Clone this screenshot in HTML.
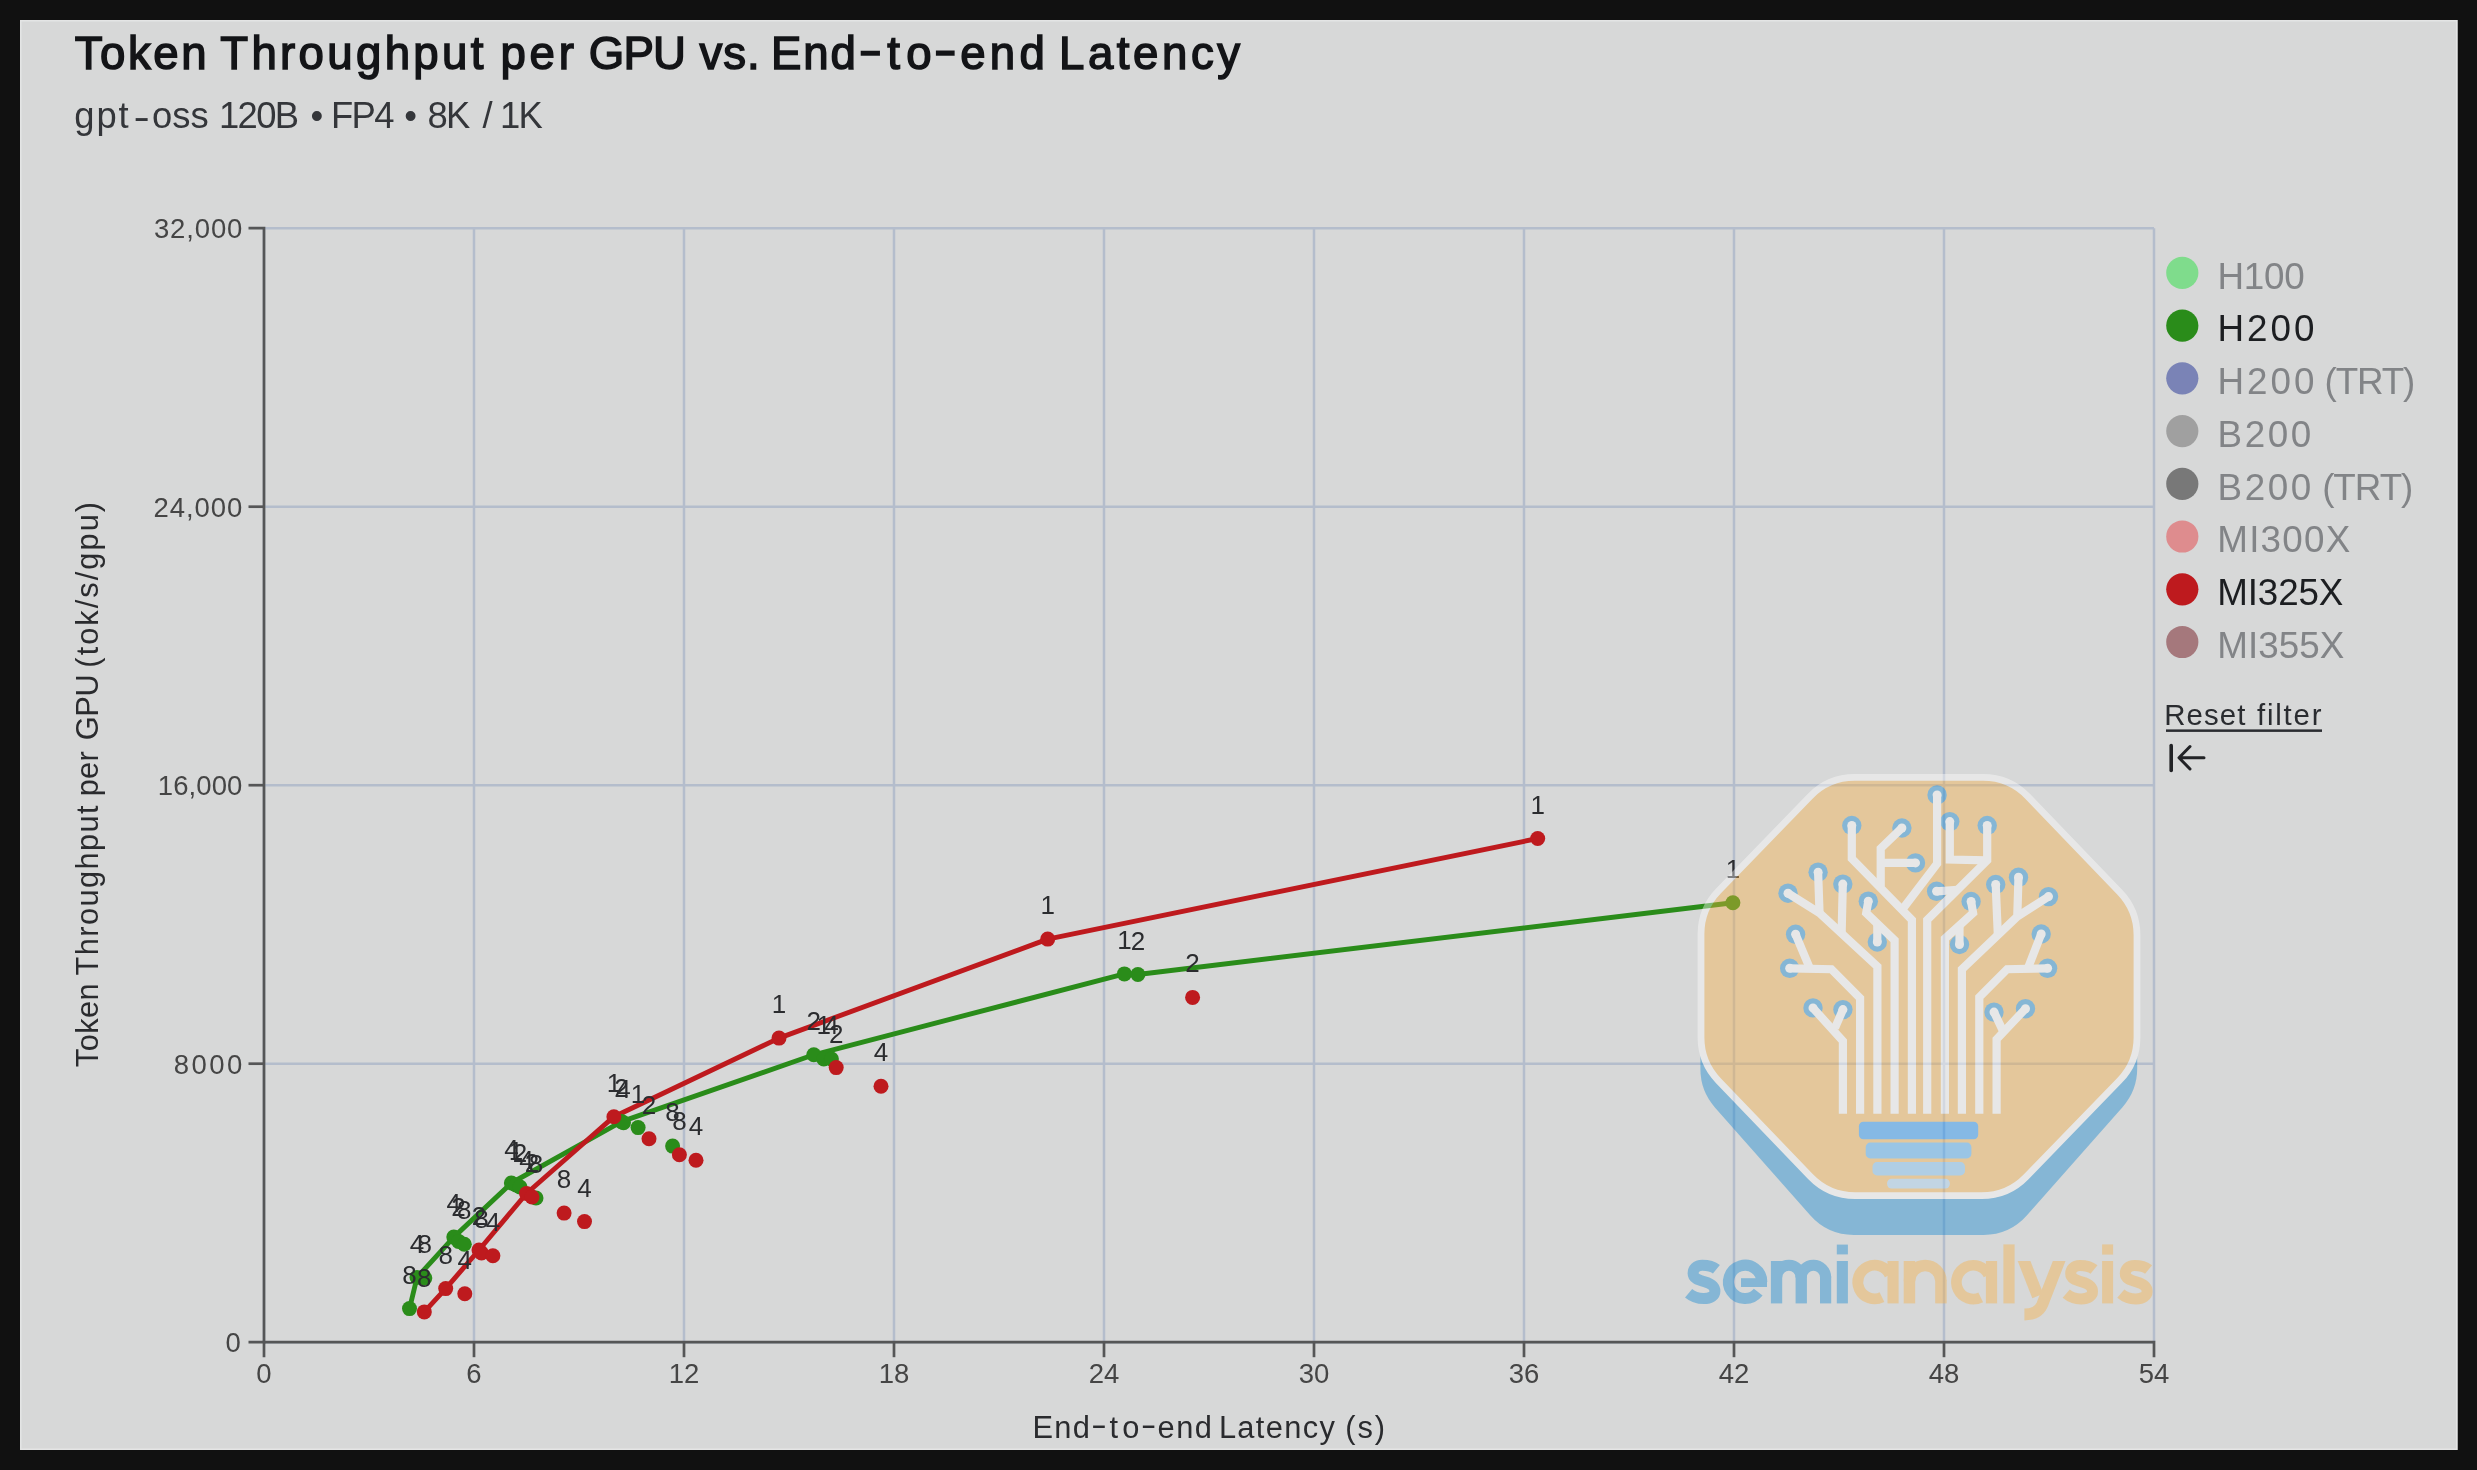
<!DOCTYPE html>
<html><head><meta charset="utf-8"><title>Token Throughput per GPU vs. End-to-end Latency</title>
<style>html,body{margin:0;padding:0;background:#111111;width:2477px;height:1470px;overflow:hidden}</style></head>
<body>
<svg width="2477" height="1470" viewBox="0 0 2477 1470" style="position:absolute;left:0;top:0;will-change:transform">
<rect x="0" y="0" width="2477" height="1470" fill="#111111"/>
<rect x="20" y="20" width="2437.5" height="1430" fill="#d7d8d8"/>
<rect x="20.75" y="20.75" width="2436" height="1428.5" fill="none" stroke="#e4e5e5" stroke-width="1.5"/>
<text x="74.74" y="69.0" font-family="Liberation Sans, sans-serif" font-size="45.6" font-weight="400" fill="#131417" letter-spacing="2.523"  stroke="#131417" stroke-width="1.5" stroke-linejoin="miter">Token</text><text x="220.24" y="69.0" font-family="Liberation Sans, sans-serif" font-size="45.6" font-weight="400" fill="#131417" letter-spacing="3.325"  stroke="#131417" stroke-width="1.5" stroke-linejoin="miter">Throughput</text><text x="500.50" y="69.0" font-family="Liberation Sans, sans-serif" font-size="45.6" font-weight="400" fill="#131417" letter-spacing="3.733"  stroke="#131417" stroke-width="1.5" stroke-linejoin="miter">per</text><text x="588.81" y="69.0" font-family="Liberation Sans, sans-serif" font-size="45.6" font-weight="400" fill="#131417" letter-spacing="-0.786"  stroke="#131417" stroke-width="1.5" stroke-linejoin="miter">GPU</text><text x="699.55" y="69.0" font-family="Liberation Sans, sans-serif" font-size="45.6" font-weight="400" fill="#131417" letter-spacing="0.975"  stroke="#131417" stroke-width="1.5" stroke-linejoin="miter">vs.</text><text x="771.09" y="69.0" font-family="Liberation Sans, sans-serif" font-size="45.6" font-weight="400" fill="#131417" letter-spacing="1.794"  stroke="#131417" stroke-width="1.5" stroke-linejoin="miter">End</text><text x="887.35" y="69.0" font-family="Liberation Sans, sans-serif" font-size="45.6" font-weight="400" fill="#131417" letter-spacing="6.118"  stroke="#131417" stroke-width="1.5" stroke-linejoin="miter">to</text><text x="960.23" y="69.0" font-family="Liberation Sans, sans-serif" font-size="45.6" font-weight="400" fill="#131417" letter-spacing="4.252"  stroke="#131417" stroke-width="1.5" stroke-linejoin="miter">end</text><text x="1058.99" y="69.0" font-family="Liberation Sans, sans-serif" font-size="45.6" font-weight="400" fill="#131417" letter-spacing="3.559"  stroke="#131417" stroke-width="1.5" stroke-linejoin="miter">Latency</text>
<text transform="translate(858.87,65.91) scale(1.527,1.000)" font-family="Liberation Sans, sans-serif" font-size="45.6" font-weight="400" fill="#131417" stroke="#131417" stroke-width="1.5">-</text><text transform="translate(934.03,65.91) scale(1.486,1.000)" font-family="Liberation Sans, sans-serif" font-size="45.6" font-weight="400" fill="#131417" stroke="#131417" stroke-width="1.5">-</text>
<text transform="translate(133.57,129.47) scale(1.345,1.000)" font-family="Liberation Sans, sans-serif" font-size="36.4" font-weight="400" fill="#34363a">-</text>
<text x="74.36" y="128.4" font-family="Liberation Sans, sans-serif" font-size="36.4" font-weight="400" fill="#34363a" letter-spacing="1.856" >gpt</text><text x="151.96" y="128.4" font-family="Liberation Sans, sans-serif" font-size="36.4" font-weight="400" fill="#34363a" letter-spacing="0.116" >oss</text><text x="218.98" y="128.4" font-family="Liberation Sans, sans-serif" font-size="36.4" font-weight="400" fill="#34363a" letter-spacing="-1.638" >120B</text><text x="310.46" y="128.4" font-family="Liberation Sans, sans-serif" font-size="36.4" font-weight="400" fill="#34363a" letter-spacing="0.000" >•</text><text x="331.04" y="128.4" font-family="Liberation Sans, sans-serif" font-size="36.4" font-weight="400" fill="#34363a" letter-spacing="-1.638" >FP4</text><text x="404.26" y="128.4" font-family="Liberation Sans, sans-serif" font-size="36.4" font-weight="400" fill="#34363a" letter-spacing="0.000" >•</text><text x="427.43" y="128.4" font-family="Liberation Sans, sans-serif" font-size="36.4" font-weight="400" fill="#34363a" letter-spacing="-1.638" >8K</text><text x="482.50" y="128.4" font-family="Liberation Sans, sans-serif" font-size="36.4" font-weight="400" fill="#34363a" letter-spacing="0.000" >/</text><text x="500.02" y="128.4" font-family="Liberation Sans, sans-serif" font-size="36.4" font-weight="400" fill="#34363a" letter-spacing="-1.638" >1K</text>
<g stroke="#b4bdcc" stroke-width="2.5" fill="none">
<line x1="264.0" y1="228.2" x2="264.0" y2="1342.2"/>
<line x1="474.0" y1="228.2" x2="474.0" y2="1342.2"/>
<line x1="684.0" y1="228.2" x2="684.0" y2="1342.2"/>
<line x1="894.0" y1="228.2" x2="894.0" y2="1342.2"/>
<line x1="1104.0" y1="228.2" x2="1104.0" y2="1342.2"/>
<line x1="1314.0" y1="228.2" x2="1314.0" y2="1342.2"/>
<line x1="1524.0" y1="228.2" x2="1524.0" y2="1342.2"/>
<line x1="1734.0" y1="228.2" x2="1734.0" y2="1342.2"/>
<line x1="1944.0" y1="228.2" x2="1944.0" y2="1342.2"/>
<line x1="2154.0" y1="228.2" x2="2154.0" y2="1342.2"/>
<line x1="264.0" y1="1342.2" x2="2154.0" y2="1342.2"/>
<line x1="264.0" y1="1063.7" x2="2154.0" y2="1063.7"/>
<line x1="264.0" y1="785.2" x2="2154.0" y2="785.2"/>
<line x1="264.0" y1="506.7" x2="2154.0" y2="506.7"/>
<line x1="264.0" y1="228.2" x2="2154.0" y2="228.2"/>
</g>
<g stroke="#555657" stroke-width="2.7" fill="none">
<path d="M248.5,228.2 H264.0 V1342.2 H248.5"/>
<path d="M264.0,1357.2 V1342.2 H2154.0 V1357.2"/>
<line x1="248.5" y1="1063.7" x2="264.0" y2="1063.7"/>
<line x1="248.5" y1="785.2" x2="264.0" y2="785.2"/>
<line x1="248.5" y1="506.7" x2="264.0" y2="506.7"/>
<line x1="474.0" y1="1342.2" x2="474.0" y2="1357.2"/>
<line x1="684.0" y1="1342.2" x2="684.0" y2="1357.2"/>
<line x1="894.0" y1="1342.2" x2="894.0" y2="1357.2"/>
<line x1="1104.0" y1="1342.2" x2="1104.0" y2="1357.2"/>
<line x1="1314.0" y1="1342.2" x2="1314.0" y2="1357.2"/>
<line x1="1524.0" y1="1342.2" x2="1524.0" y2="1357.2"/>
<line x1="1734.0" y1="1342.2" x2="1734.0" y2="1357.2"/>
<line x1="1944.0" y1="1342.2" x2="1944.0" y2="1357.2"/>
</g>
<text x="225.44" y="1352.2" font-family="Liberation Sans, sans-serif" font-size="27.5" font-weight="400" fill="#454545" letter-spacing="0.000" >0</text>
<text x="173.64" y="1073.7" font-family="Liberation Sans, sans-serif" font-size="27.5" font-weight="400" fill="#454545" letter-spacing="2.522" >8000</text>
<text x="157.78" y="795.2" font-family="Liberation Sans, sans-serif" font-size="27.5" font-weight="400" fill="#454545" letter-spacing="0.098" >16,000</text>
<text x="153.51" y="516.7" font-family="Liberation Sans, sans-serif" font-size="27.5" font-weight="400" fill="#454545" letter-spacing="0.953" >24,000</text>
<text x="153.94" y="238.2" font-family="Liberation Sans, sans-serif" font-size="27.5" font-weight="400" fill="#454545" letter-spacing="0.867" >32,000</text>
<g font-family="Liberation Sans, sans-serif" font-size="27.5" fill="#454545">
<text x="264.0" y="1382.6" text-anchor="middle" letter-spacing="0">0</text>
<text x="474.0" y="1382.6" text-anchor="middle" letter-spacing="0">6</text>
<text x="684.0" y="1382.6" text-anchor="middle" letter-spacing="0">12</text>
<text x="894.0" y="1382.6" text-anchor="middle" letter-spacing="0">18</text>
<text x="1104.0" y="1382.6" text-anchor="middle" letter-spacing="0">24</text>
<text x="1314.0" y="1382.6" text-anchor="middle" letter-spacing="0">30</text>
<text x="1524.0" y="1382.6" text-anchor="middle" letter-spacing="0">36</text>
<text x="1734.0" y="1382.6" text-anchor="middle" letter-spacing="0">42</text>
<text x="1944.0" y="1382.6" text-anchor="middle" letter-spacing="0">48</text>
<text x="2154.0" y="1382.6" text-anchor="middle" letter-spacing="0">54</text>
</g>
<text transform="translate(1090.91,1434.78) scale(1.552,1.000)" font-family="Liberation Sans, sans-serif" font-size="30.8" font-weight="400" fill="#2a2b2e">-</text><text transform="translate(1140.63,1434.78) scale(1.528,1.000)" font-family="Liberation Sans, sans-serif" font-size="30.8" font-weight="400" fill="#2a2b2e">-</text>
<text x="1032.39" y="1437.6" font-family="Liberation Sans, sans-serif" font-size="30.8" font-weight="400" fill="#2a2b2e" letter-spacing="1.367" >End</text><text x="1109.40" y="1437.6" font-family="Liberation Sans, sans-serif" font-size="30.8" font-weight="400" fill="#2a2b2e" letter-spacing="4.362" >to</text><text x="1157.54" y="1437.6" font-family="Liberation Sans, sans-serif" font-size="30.8" font-weight="400" fill="#2a2b2e" letter-spacing="1.502" >end</text><text x="1218.89" y="1437.6" font-family="Liberation Sans, sans-serif" font-size="30.8" font-weight="400" fill="#2a2b2e" letter-spacing="1.355" >Latency</text><text x="1345.26" y="1437.6" font-family="Liberation Sans, sans-serif" font-size="30.8" font-weight="400" fill="#2a2b2e" letter-spacing="1.962" >(s)</text>
<g transform="translate(98.4,1066.7) rotate(-90)"><text x="-0.48" y="0" font-family="Liberation Sans, sans-serif" font-size="30.8" font-weight="400" fill="#2a2b2e" letter-spacing="0.406" >Token</text><text x="91.32" y="0" font-family="Liberation Sans, sans-serif" font-size="30.8" font-weight="400" fill="#2a2b2e" letter-spacing="1.371" >Throughput</text><text x="270.57" y="0" font-family="Liberation Sans, sans-serif" font-size="30.8" font-weight="400" fill="#2a2b2e" letter-spacing="0.130" >per</text><text x="326.56" y="0" font-family="Liberation Sans, sans-serif" font-size="30.8" font-weight="400" fill="#2a2b2e" letter-spacing="-0.435" >GPU</text><text x="399.06" y="0" font-family="Liberation Sans, sans-serif" font-size="30.8" font-weight="400" fill="#2a2b2e" letter-spacing="2.023" >(tok/s/gpu)</text></g>
<polyline points="409.5,1308.6 417.0,1277.5 453.8,1237.1 511.4,1183.0 621.5,1121.6 813.8,1054.8 1124.4,973.9 1137.9,974.5 1732.9,902.8" fill="none" stroke="#2a8c1a" stroke-width="4.9" stroke-linejoin="round" stroke-linecap="round"/>
<polyline points="424.3,1311.9 445.7,1288.6 479.0,1250.0 526.5,1193.5 613.9,1116.7 779.0,1038.1 1047.7,939.1 1537.7,838.5" fill="none" stroke="#be1a1e" stroke-width="4.9" stroke-linejoin="round" stroke-linecap="round"/>
<g fill="#2a8c1a"><circle cx="409.5" cy="1308.6" r="7.5"/><circle cx="417.0" cy="1277.5" r="7.5"/><circle cx="424.8" cy="1278.0" r="7.5"/><circle cx="453.8" cy="1237.1" r="7.5"/><circle cx="458.6" cy="1241.4" r="7.5"/><circle cx="464.3" cy="1244.3" r="7.5"/><circle cx="511.4" cy="1183.0" r="7.5"/><circle cx="516.0" cy="1185.0" r="7.5"/><circle cx="520.0" cy="1187.0" r="7.5"/><circle cx="536.0" cy="1198.0" r="7.5"/><circle cx="621.5" cy="1121.6" r="7.5"/><circle cx="623.5" cy="1122.7" r="7.5"/><circle cx="638.1" cy="1127.6" r="7.5"/><circle cx="672.6" cy="1146.1" r="7.5"/><circle cx="813.8" cy="1054.8" r="7.5"/><circle cx="823.8" cy="1059.0" r="7.5"/><circle cx="831.4" cy="1059.0" r="7.5"/><circle cx="1124.4" cy="973.9" r="7.5"/><circle cx="1137.9" cy="974.5" r="7.5"/><circle cx="1732.9" cy="902.8" r="7.5"/></g>
<g fill="#be1a1e"><circle cx="424.3" cy="1311.9" r="7.5"/><circle cx="445.7" cy="1288.6" r="7.5"/><circle cx="464.8" cy="1293.8" r="7.5"/><circle cx="479.0" cy="1250.0" r="7.5"/><circle cx="481.5" cy="1253.0" r="7.5"/><circle cx="492.9" cy="1255.7" r="7.5"/><circle cx="526.5" cy="1193.5" r="7.5"/><circle cx="532.0" cy="1197.0" r="7.5"/><circle cx="564.1" cy="1213.1" r="7.5"/><circle cx="584.5" cy="1221.6" r="7.5"/><circle cx="613.9" cy="1116.7" r="7.5"/><circle cx="649.0" cy="1138.8" r="7.5"/><circle cx="679.4" cy="1154.8" r="7.5"/><circle cx="696.0" cy="1160.2" r="7.5"/><circle cx="779.0" cy="1038.1" r="7.5"/><circle cx="836.2" cy="1067.6" r="7.5"/><circle cx="881.0" cy="1086.2" r="7.5"/><circle cx="1047.7" cy="939.1" r="7.5"/><circle cx="1192.6" cy="997.4" r="7.5"/><circle cx="1537.7" cy="838.5" r="7.5"/></g>
<g font-family="Liberation Sans, sans-serif" font-size="26" fill="#2b2c2f" text-anchor="middle">
<text x="409.5" y="1283.6">8</text>
<text x="417.0" y="1252.5">4</text>
<text x="424.8" y="1253.0">8</text>
<text x="453.8" y="1212.1">4</text>
<text x="458.6" y="1216.4">2</text>
<text x="464.3" y="1219.3">8</text>
<text x="511.4" y="1158.0">4</text>
<text x="516.0" y="1160.0">1</text>
<text x="520.0" y="1162.0">2</text>
<text x="536.0" y="1173.0">8</text>
<text x="621.5" y="1096.6">2</text>
<text x="623.5" y="1097.7">4</text>
<text x="638.1" y="1102.6">1</text>
<text x="672.6" y="1121.1">8</text>
<text x="813.8" y="1029.8">2</text>
<text x="823.8" y="1034.0">1</text>
<text x="831.4" y="1034.0">4</text>
<text x="1124.4" y="948.9">1</text>
<text x="1137.9" y="949.5">2</text>
<text x="1732.9" y="877.8">1</text>
<text x="424.3" y="1286.9">8</text>
<text x="445.7" y="1263.6">8</text>
<text x="464.8" y="1268.8">4</text>
<text x="479.0" y="1225.0">2</text>
<text x="481.5" y="1228.0">8</text>
<text x="492.9" y="1230.7">4</text>
<text x="526.5" y="1168.5">4</text>
<text x="532.0" y="1172.0">2</text>
<text x="564.1" y="1188.1">8</text>
<text x="584.5" y="1196.6">4</text>
<text x="613.9" y="1091.7">1</text>
<text x="649.0" y="1113.8">2</text>
<text x="679.4" y="1129.8">8</text>
<text x="696.0" y="1135.2">4</text>
<text x="779.0" y="1013.1">1</text>
<text x="836.2" y="1042.6">2</text>
<text x="881.0" y="1061.2">4</text>
<text x="1047.7" y="914.1">1</text>
<text x="1192.6" y="972.4">2</text>
<text x="1537.7" y="813.5">1</text>
</g>
<circle cx="2182.3" cy="272.8" r="16.1" fill="#7fdc8c"/>
<text x="2217.53" y="288.6" font-family="Liberation Sans, sans-serif" font-size="36.8" font-weight="400" fill="#828487" letter-spacing="-0.295" >H100</text>
<circle cx="2182.3" cy="325.6" r="16.1" fill="#2a8c1a"/>
<text x="2217.53" y="341.4" font-family="Liberation Sans, sans-serif" font-size="36.8" font-weight="400" fill="#1c1e21" letter-spacing="3.005" >H200</text>
<circle cx="2182.3" cy="378.3" r="16.1" fill="#7a83b6"/>
<text x="2217.53" y="394.1" font-family="Liberation Sans, sans-serif" font-size="36.8" font-weight="400" fill="#828487" letter-spacing="3.005" >H200</text><text x="2324.58" y="394.1" font-family="Liberation Sans, sans-serif" font-size="36.8" font-weight="400" fill="#828487" letter-spacing="-1.187" >(TRT)</text>
<circle cx="2182.3" cy="431.1" r="16.1" fill="#a0a0a0"/>
<text x="2217.53" y="446.9" font-family="Liberation Sans, sans-serif" font-size="36.8" font-weight="400" fill="#828487" letter-spacing="2.616" >B200</text>
<circle cx="2182.3" cy="483.8" r="16.1" fill="#787878"/>
<text x="2217.53" y="499.6" font-family="Liberation Sans, sans-serif" font-size="36.8" font-weight="400" fill="#828487" letter-spacing="2.616" >B200</text><text x="2322.18" y="499.6" font-family="Liberation Sans, sans-serif" font-size="36.8" font-weight="400" fill="#828487" letter-spacing="-1.062" >(TRT)</text>
<circle cx="2182.3" cy="536.5" r="16.1" fill="#de8c8e"/>
<text x="2217.32" y="552.3" font-family="Liberation Sans, sans-serif" font-size="36.8" font-weight="400" fill="#828487" letter-spacing="1.209" >MI300X</text>
<circle cx="2182.3" cy="589.3" r="16.1" fill="#be1a1e"/>
<text x="2217.32" y="605.1" font-family="Liberation Sans, sans-serif" font-size="36.8" font-weight="400" fill="#1c1e21" letter-spacing="-0.171" >MI325X</text>
<circle cx="2182.3" cy="642.0" r="16.1" fill="#a5787c"/>
<text x="2217.32" y="657.8" font-family="Liberation Sans, sans-serif" font-size="36.8" font-weight="400" fill="#828487" letter-spacing="0.029" >MI355X</text>
<text x="2164.30" y="725.2" font-family="Liberation Sans, sans-serif" font-size="29.4" font-weight="400" fill="#2a2c30" letter-spacing="1.074" >Reset</text><text x="2256.90" y="725.2" font-family="Liberation Sans, sans-serif" font-size="29.4" font-weight="400" fill="#2a2c30" letter-spacing="1.820" >filter</text>
<rect x="2166" y="729.4" width="156" height="2.5" fill="#2a2c30"/>
<g stroke="#222326" stroke-width="3" fill="none" stroke-linecap="round" stroke-linejoin="round">
<line x1="2171.2" y1="745.5" x2="2171.2" y2="770.5" stroke-width="3.6"/>
<path d="M2204,757.7 H2179.5 M2190,746.5 L2179,757.7 L2190,769"/>
</g>
<g opacity="0.4">
<path d="M1743.0,917.1 A58,58 0 0 1 1784.1,900.0 L2055.2,900.0 A58,58 0 0 1 2097.1,918.0 L2121.2,943.2 A58,58 0 0 1 2137.2,983.2 L2137.2,1068.6 A58,58 0 0 1 2122.7,1106.9 L2027.0,1215.3 A58,58 0 0 1 1983.5,1234.9 L1853.7,1234.9 A58,58 0 0 1 1810.2,1215.3 L1714.9,1107.4 A58,58 0 0 1 1700.4,1069.1 L1700.4,983.9 A58,58 0 0 1 1717.3,943.0 Z" fill="#0B86D1"/>
<path d="M1810.1,796.3 A62,62 0 0 1 1854.7,777.4 L1983.0,777.4 A62,62 0 0 1 2027.7,796.4 L2119.7,892.1 A62,62 0 0 1 2137.0,935.1 L2137.0,1037.4 A62,62 0 0 1 2119.5,1080.5 L2026.1,1176.8 A62,62 0 0 1 1981.6,1195.6 L1855.2,1195.6 A62,62 0 0 1 1810.5,1176.6 L1718.3,1080.6 A62,62 0 0 1 1701.0,1037.6 L1701.0,934.0 A62,62 0 0 1 1718.5,890.9 Z" fill="#F7B041" stroke="#ffffff" stroke-width="6.8"/>
<g fill="#0B86D1"><circle cx="1937.1" cy="794.9" r="9.7"/><circle cx="1949.8" cy="821.6" r="9.7"/><circle cx="1987.2" cy="825.5" r="9.7"/><circle cx="1936.6" cy="891.3" r="9.7"/><circle cx="1971.1" cy="901.5" r="9.7"/><circle cx="1995.7" cy="884.5" r="9.7"/><circle cx="2018.5" cy="877.3" r="9.7"/><circle cx="2048.5" cy="896.6" r="9.7"/><circle cx="1959.5" cy="944.5" r="9.7"/><circle cx="2041.2" cy="934" r="9.7"/><circle cx="2047.6" cy="968.3" r="9.7"/><circle cx="1994" cy="1012.1" r="9.7"/><circle cx="2025.5" cy="1008.7" r="9.7"/><circle cx="1851.8" cy="825.5" r="9.7"/><circle cx="1901.9" cy="828" r="9.7"/><circle cx="1915.5" cy="862.9" r="9.7"/><circle cx="1818.1" cy="872.2" r="9.7"/><circle cx="1842.8" cy="884.1" r="9.7"/><circle cx="1788" cy="893.2" r="9.7"/><circle cx="1868.3" cy="901.2" r="9.7"/><circle cx="1795.6" cy="934.3" r="9.7"/><circle cx="1877.3" cy="942" r="9.7"/><circle cx="1789.7" cy="968.3" r="9.7"/><circle cx="1813" cy="1007.9" r="9.7"/><circle cx="1842.9" cy="1009.6" r="9.7"/></g>
<g fill="none" stroke="#ffffff" stroke-width="8.2" stroke-linejoin="miter">
<polyline points="1987.2,825.5 1987.2,860.4 1927.2,919.9 1927.2,1113.8"/>
<polyline points="1949.8,821.6 1949.8,859.5 1987.2,860.4"/>
<polyline points="1936.6,891.3 1957.5,889.8"/>
<polyline points="1937.1,794.9 1937.1,863.7 1903.4,908.0"/>
<polyline points="1971.1,901.5 1973.1,913.0 1944.9,938.6 1944.9,1113.8"/>
<polyline points="1959.5,944.5 1959.5,926.5"/>
<polyline points="2048.5,896.6 2017.3,916.5 1961.9,969.2 1961.9,1113.8"/>
<polyline points="2018.5,877.3 2017.3,915.0"/>
<polyline points="1995.7,884.5 1997.8,934.0"/>
<polyline points="2047.6,968.3 2007.1,969.2 1979.3,997.2 1979.3,1113.8"/>
<polyline points="2041.2,934.0 2028.4,967.0"/>
<polyline points="2025.5,1008.7 1996.6,1039.3 1996.6,1113.8"/>
<polyline points="1994.0,1012.1 2002.5,1030.0"/>
<polyline points="1851.8,825.5 1851.8,858.6 1911.9,919.9 1911.9,1113.8"/>
<polyline points="1901.9,828.0 1880.7,848.4 1880.7,886.5"/>
<polyline points="1915.5,862.9 1880.7,862.9"/>
<polyline points="1868.3,901.2 1866.2,913.0 1894.6,940.3 1894.6,1113.8"/>
<polyline points="1877.3,942.0 1877.3,924.5"/>
<polyline points="1788.0,893.2 1819.5,913.1 1877.4,966.6 1877.4,1113.8"/>
<polyline points="1818.1,872.2 1819.5,912.0"/>
<polyline points="1842.8,884.1 1841.6,934.0"/>
<polyline points="1789.7,968.3 1831.4,969.2 1860.1,998.1 1860.1,1113.8"/>
<polyline points="1795.6,934.3 1809.3,967.0"/>
<polyline points="1813.0,1007.9 1842.9,1041.0 1842.9,1113.8"/>
<polyline points="1842.9,1009.6 1835.0,1028.0"/>
</g>
<g fill="#ffffff"><circle cx="1937.1" cy="794.9" r="4.5"/><circle cx="1949.8" cy="821.6" r="4.5"/><circle cx="1987.2" cy="825.5" r="4.5"/><circle cx="1936.6" cy="891.3" r="4.5"/><circle cx="1971.1" cy="901.5" r="4.5"/><circle cx="1995.7" cy="884.5" r="4.5"/><circle cx="2018.5" cy="877.3" r="4.5"/><circle cx="2048.5" cy="896.6" r="4.5"/><circle cx="1959.5" cy="944.5" r="4.5"/><circle cx="2041.2" cy="934" r="4.5"/><circle cx="2047.6" cy="968.3" r="4.5"/><circle cx="1994" cy="1012.1" r="4.5"/><circle cx="2025.5" cy="1008.7" r="4.5"/><circle cx="1851.8" cy="825.5" r="4.5"/><circle cx="1901.9" cy="828" r="4.5"/><circle cx="1915.5" cy="862.9" r="4.5"/><circle cx="1818.1" cy="872.2" r="4.5"/><circle cx="1842.8" cy="884.1" r="4.5"/><circle cx="1788" cy="893.2" r="4.5"/><circle cx="1868.3" cy="901.2" r="4.5"/><circle cx="1795.6" cy="934.3" r="4.5"/><circle cx="1877.3" cy="942" r="4.5"/><circle cx="1789.7" cy="968.3" r="4.5"/><circle cx="1813" cy="1007.9" r="4.5"/><circle cx="1842.9" cy="1009.6" r="4.5"/></g>
<rect x="1858.9" y="1121.8" width="119.3" height="17.5" rx="4.5" fill="#0a8dfa"/>
<rect x="1865.7" y="1142.6" width="105.7" height="15.8" rx="4.5" fill="#40abfb"/>
<rect x="1872.5" y="1162.1" width="92.5" height="13.3" rx="4.5" fill="#75c1f8"/>
<rect x="1887.1" y="1178.8" width="62.7" height="9.8" rx="4.5" fill="#a4d3f6"/>
<path transform="translate(1685.6,1259.7)" d="M30.8,9.6 C27,6.5 22,5.5 16.7,5.5 C10.5,5.5 7.5,9.5 7.5,13.5 C7.5,18.5 12,20 19,22 C26,24 29.3,26.5 29.3,31.5 C29.3,36 25,38.9 18,38.9 C12,38.9 7,37 3,33.6" fill="none" stroke="#0B86D1" stroke-width="11"/>
<path d="M1761.75,1281.90 A16.65,16.65 0 1 0 1758.22,1292.15" fill="none" stroke="#0B86D1" stroke-width="11.1"/>
<rect x="1741" y="1278.2" width="26.00" height="8.80" fill="#0B86D1"/>
<rect x="1770.9" y="1261.0" width="11.30" height="42.40" fill="#0B86D1"/><rect x="1795.6" y="1276.5" width="11.30" height="26.90" fill="#0B86D1"/><rect x="1820" y="1276.5" width="11.20" height="26.90" fill="#0B86D1"/>
<path d="M1776.65,1277.5 A12.25,12.25 0 0 1 1801.15,1277.5" fill="none" stroke="#0B86D1" stroke-width="11.2"/><path d="M1801.15,1277.5 A12.25,12.25 0 0 1 1825.65,1277.5" fill="none" stroke="#0B86D1" stroke-width="11.2"/>
<rect x="1836.8" y="1261.0" width="11.10" height="42.40" fill="#0B86D1"/><rect x="1836.8" y="1244.6" width="11.10" height="9.80" fill="#0B86D1"/>
<path d="M1889.83,1274.90 A16.8,16.8 0 1 0 1881.96,1297.10" fill="none" stroke="#F7B041" stroke-width="10.9"/><rect x="1887.5" y="1261.0" width="11.10" height="42.40" fill="#F7B041"/>
<rect x="1903.7" y="1261.0" width="11.50" height="42.40" fill="#F7B041"/><rect x="1935.2" y="1280.2" width="11.50" height="23.20" fill="#F7B041"/><path d="M1909.45,1281.2 A15.75,15.75 0 0 1 1940.95,1281.2" fill="none" stroke="#F7B041" stroke-width="11.5"/>
<path d="M1988.62,1275.06 A16.9,16.9 0 1 0 1980.71,1297.39" fill="none" stroke="#F7B041" stroke-width="10.7"/><rect x="1985.9" y="1261.0" width="11.20" height="42.40" fill="#F7B041"/>
<rect x="2003.4" y="1244.4" width="11.20" height="59.00" fill="#F7B041"/>
<clipPath id="ycl"><rect x="2010" y="1261" width="70" height="70"/></clipPath>
<g clip-path="url(#ycl)" fill="none" stroke="#F7B041" stroke-width="11.8"><path d="M2021.7,1255 L2037.8,1296"/><path d="M2061.5,1255 L2042.3,1304.5 Q2038,1314.5 2024.4,1314.5"/></g>
<path transform="translate(2063.2,1260)" d="M30.8,9.6 C27,6.5 22,5.5 16.7,5.5 C10.5,5.5 7.5,9.5 7.5,13.5 C7.5,18.5 12,20 19,22 C26,24 29.3,26.5 29.3,31.5 C29.3,36 25,38.9 18,38.9 C12,38.9 7,37 3,33.6" fill="none" stroke="#F7B041" stroke-width="11"/>
<rect x="2102.1" y="1261.0" width="11.00" height="42.40" fill="#F7B041"/><rect x="2102.1" y="1244.4" width="11.00" height="10.20" fill="#F7B041"/>
<path transform="translate(2117.8,1260)" d="M30.8,9.6 C27,6.5 22,5.5 16.7,5.5 C10.5,5.5 7.5,9.5 7.5,13.5 C7.5,18.5 12,20 19,22 C26,24 29.3,26.5 29.3,31.5 C29.3,36 25,38.9 18,38.9 C12,38.9 7,37 3,33.6" fill="none" stroke="#F7B041" stroke-width="11"/>
</g>
</svg>
</body></html>
